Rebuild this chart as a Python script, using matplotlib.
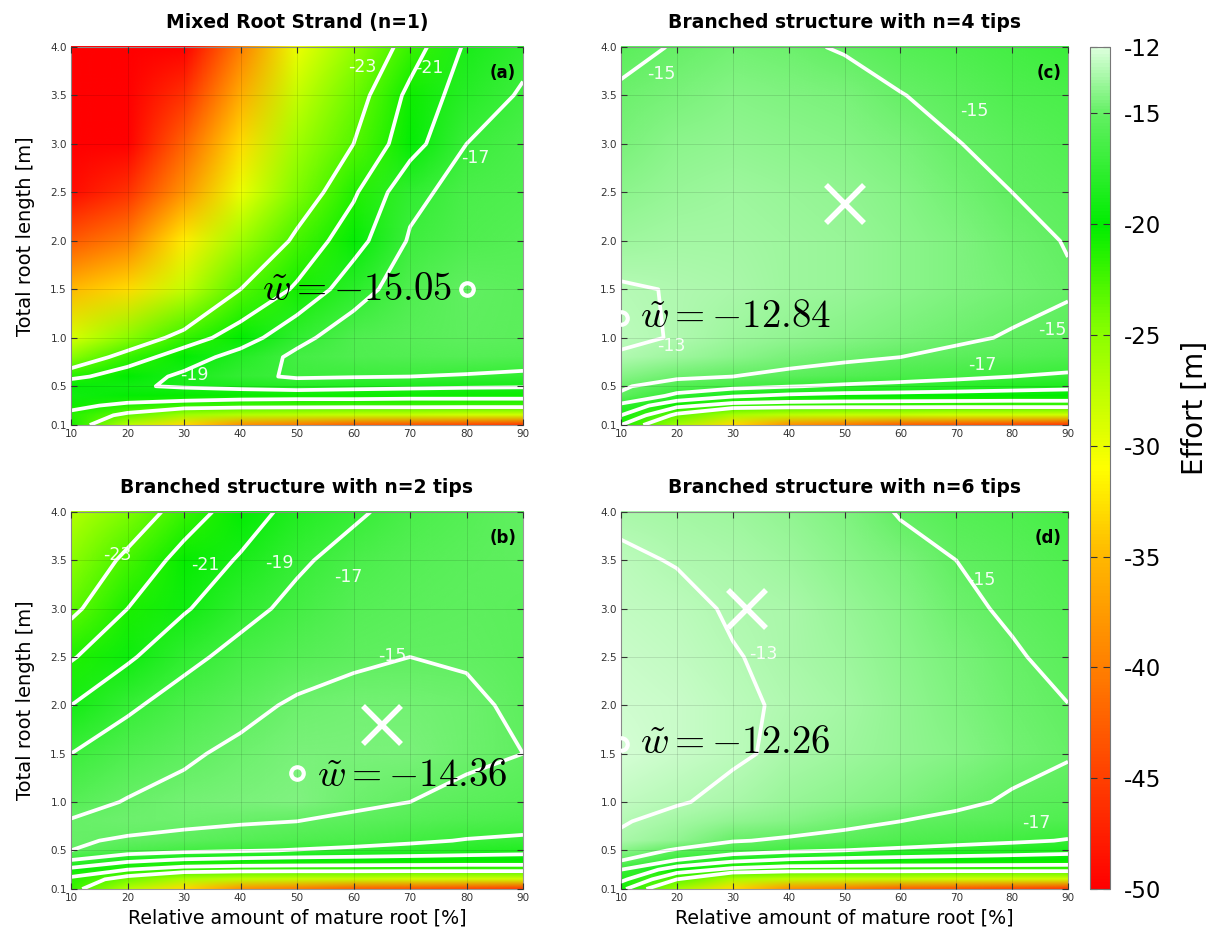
import numpy as np
import matplotlib
matplotlib.use('Agg')
import matplotlib.pyplot as plt
from matplotlib.colors import LinearSegmentedColormap, Normalize
from matplotlib.image import NonUniformImage

plt.rcParams['axes.unicode_minus'] = False
plt.rcParams['font.family'] = ['DejaVu Sans']
plt.rcParams['contour.negative_linestyle'] = 'solid'

# ---------------- data ----------------
mature_pct = [10, 20, 30, 40, 50, 60, 70, 80, 90]
root_len = [4.0, 3.5, 3.0, 2.5, 2.0, 1.5, 1.0, 0.8, 0.6, 0.5, 0.4, 0.3, 0.2, 0.1]

# effort grids, rows follow root_len (top -> bottom), columns follow mature_pct
effort_a = [
    [-62, -58, -52, -40, -30, -25.5, -22, -18.7, -17.5],
    [-60, -54, -46, -36, -28, -24, -20.5, -18, -16.8],
    [-57, -50, -42, -33, -26, -23, -19.8, -17, -16.3],
    [-49, -46, -38, -30, -24.5, -21.3, -17.5, -16.3, -16],
    [-43, -40, -32, -26, -22.5, -19.8, -16.8, -16, -15.6],
    [-35, -33, -28, -23, -20.7, -17.8, -16, -15.05, -15.3],
    [-29, -25, -22, -20, -17.5, -16, -15.5, -15.2, -15.4],
    [-25, -22, -20, -18.2, -16.6, -16, -15.8, -15.6, -15.8],
    [-21.5, -20, -18.6, -17.4, -16.8, -16.9, -17.0, -17.2, -17.5],
    [-19.6, -19.2, -18.8, -18.4, -18.0, -18.3, -18.5, -18.7, -18.8],
    [-19.2, -19.8, -20.2, -20.4, -20.5, -20.5, -20.6, -20.6, -20.6],
    [-20.5, -21.5, -21.8, -22, -22, -22, -22, -22, -22],
    [-21.5, -23.5, -26, -27, -27.5, -28, -28, -28.5, -28.5],
    [-21, -27, -33, -38, -40, -42, -43, -44, -45],
]
effort_b = [
    [-27, -24.5, -22, -20, -18.3, -17.3, -16.3, -15.6, -15.1],
    [-25, -22.5, -20.3, -18.8, -17.3, -16.3, -15.6, -15.3, -15.2],
    [-23.5, -21, -19.2, -17.6, -16.5, -15.7, -15.3, -15.2, -15.3],
    [-21.2, -19.3, -17.5, -16.4, -15.7, -15.2, -15.0, -15.1, -15.4],
    [-19.0, -17.3, -16.2, -15.4, -14.8, -14.6, -14.6, -14.8, -15.2],
    [-17.0, -16.0, -15.2, -14.7, -14.42, -14.45, -14.5, -14.7, -15.0],
    [-15.6, -14.9, -14.6, -14.45, -14.36, -14.7, -15.0, -15.4, -15.7],
    [-14.9, -14.7, -14.7, -14.85, -15.0, -15.3, -15.6, -16.0, -16.3],
    [-14.9, -15.1, -15.4, -15.7, -16.0, -16.3, -16.7, -17.1, -17.3],
    [-15.0, -16.0, -16.5, -16.8, -17.1, -17.4, -17.7, -18.0, -18.3],
    [-17.0, -18.5, -19.2, -19.5, -19.7, -19.8, -19.9, -20, -20],
    [-19.5, -21, -21.8, -22, -22, -22, -22, -22, -22],
    [-21.5, -24, -26.5, -27.5, -28, -28, -28.5, -28.5, -28.5],
    [-22, -27, -33, -38, -40, -42, -43, -44, -45],
]
effort_c = [
    [-15.4, -14.9, -14.6, -14.8, -15.1, -15.6, -16.1, -16.5, -16.9],
    [-14.8, -14.4, -14.2, -14.3, -14.5, -14.95, -15.4, -15.9, -16.3],
    [-14.4, -14.0, -13.9, -14.0, -14.2, -14.5, -14.95, -15.4, -15.8],
    [-14.0, -13.7, -13.6, -13.7, -13.9, -14.2, -14.6, -15.0, -15.4],
    [-13.5, -13.4, -13.4, -13.5, -13.7, -14.0, -14.35, -14.7, -15.05],
    [-12.9, -13.05, -13.3, -13.5, -13.7, -14.0, -14.3, -14.6, -14.9],
    [-12.84, -13.05, -13.5, -13.8, -14.1, -14.4, -14.8, -15.1, -15.3],
    [-13.1, -13.6, -14.0, -14.4, -14.7, -15.0, -15.3, -15.6, -15.9],
    [-14.2, -14.7, -15.0, -15.4, -15.8, -16.2, -16.6, -17.0, -17.3],
    [-14.8, -15.8, -16.4, -16.9, -17.3, -17.6, -17.9, -18.2, -18.5],
    [-15.2, -17.5, -18.8, -19.4, -19.7, -19.8, -19.9, -20.0, -20.0],
    [-17.5, -20.5, -21.8, -22, -22, -22, -22, -22, -22],
    [-19, -23.5, -26.5, -27.5, -28, -28, -28.5, -28.5, -28.5],
    [-21, -26, -33, -38, -40, -42, -43, -44, -45],
]
effort_d = [
    [-13.2, -13.4, -13.6, -13.9, -14.3, -15.1, -15.6, -16.0, -16.4],
    [-12.85, -13.05, -13.3, -13.6, -14.0, -14.5, -15.0, -15.5, -15.9],
    [-12.6, -12.75, -13.1, -13.3, -13.7, -14.2, -14.7, -15.2, -15.6],
    [-12.45, -12.6, -12.95, -13.2, -13.55, -14.0, -14.5, -14.85, -15.4],
    [-12.35, -12.5, -12.8, -13.15, -13.45, -13.85, -14.3, -14.7, -14.98],
    [-12.26, -12.45, -12.85, -13.2, -13.5, -13.85, -14.2, -14.6, -14.9],
    [-12.6, -12.9, -13.3, -13.65, -14.0, -14.35, -14.75, -15.15, -15.5],
    [-12.9, -13.4, -13.8, -14.2, -14.6, -15.0, -15.3, -15.7, -16.0],
    [-13.2, -13.9, -14.9, -15.2, -15.5, -15.9, -16.3, -16.7, -17.1],
    [-14.0, -15.2, -16.0, -16.6, -17.0, -17.4, -17.8, -18.1, -18.4],
    [-14.9, -17, -18.5, -19.2, -19.5, -19.7, -19.8, -19.9, -20],
    [-17, -20, -21.5, -22, -22, -22, -22, -22, -22],
    [-18.5, -23, -26.5, -27.5, -28, -28, -28.5, -28.5, -28.5],
    [-20.5, -26, -33, -38, -40, -42, -43, -44, -45],
]

titles = ['Mixed Root Strand (n=1)', 'Branched structure with n=2 tips',
          'Branched structure with n=4 tips', 'Branched structure with n=6 tips']
tags = ['(a)', '(b)', '(c)', '(d)']
w_best = [-15.05, -14.36, -12.84, -12.26]
best_x = [80, 50, 10, 10]
best_y = [1.5, 1.3, 1.2, 1.6]
cross_x = [None, 65, 50, 32.5]
cross_y = [None, 1.8, 2.38, 3.0]
contour_levels = [-23, -21, -19, -17, -15, -13]

# contour label texts and where they sit
labels_a = [(-23, 61.6, 3.79), (-21, 73.5, 3.78), (-17, 81.5, 2.85), (-19, 31.9, 0.62)]
labels_b = [(-23, 18.2, 3.55), (-21, 33.8, 3.45), (-19, 46.9, 3.47), (-17, 59.0, 3.33), (-15, 66.8, 2.51)]
labels_c = [(-15, 17.2, 3.72), (-15, 73.3, 3.34), (-13, 19.0, 0.91), (-15, 87.2, 1.08), (-17, 74.7, 0.72)]
labels_d = [(-13, 35.5, 2.53), (-15, 74.4, 3.30), (-17, 84.3, 0.78)]

# w-annotation anchor (x, y, horizontal alignment)
w_text = [(77.5, 1.5, 'right'), (53.5, 1.28, 'left'), (13.4, 1.22, 'left'), (13.4, 1.62, 'left')]

cbar_ticks = [-12, -15, -20, -25, -30, -35, -40, -45, -50]
vmin, vmax = -50, -12

# ---------------- colormap ----------------
nodes = [(-50, (1.0, 0.0, 0.0)), (-45, (1.0, 0.25, 0.0)), (-40, (1.0, 0.5, 0.0)),
         (-35, (1.0, 0.72, 0.0)), (-31, (1.0, 1.0, 0.0)), (-25, (0.55, 1.0, 0.0)),
         (-20, (0.0, 0.93, 0.0)), (-15, (0.38, 0.94, 0.38)), (-12, (0.86, 1.0, 0.86))]
cmap = LinearSegmentedColormap.from_list(
    'effort', [((v - vmin) / (vmax - vmin), c) for v, c in nodes])
cmap.set_under((1.0, 0.0, 0.0))
cmap.set_over((0.86, 1.0, 0.86))
norm = Normalize(vmin, vmax)

# ---------------- figure ----------------
fig = plt.figure(figsize=(12.07, 9.40), dpi=100)
W, H = 1207, 940
def rect(l, t, r, b):
    return [l / W, 1 - b / H, (r - l) / W, (b - t) / H]

ax_rects = [rect(71, 47, 523, 425), rect(71, 512, 523, 889),
            rect(621, 47, 1068, 425), rect(621, 512, 1068, 889)]
grids = [effort_a, effort_b, effort_c, effort_d]
label_sets = [labels_a, labels_b, labels_c, labels_d]

xs = np.array(mature_pct, dtype=float)
ys = np.array(root_len, dtype=float)
X, Y = np.meshgrid(xs, ys)
for i in range(4):
    ax = fig.add_axes(ax_rects[i])
    Z = np.array(grids[i], dtype=float)
    im = NonUniformImage(ax, interpolation='bilinear', extent=(10, 90, 0.1, 4.0),
                         cmap=cmap, norm=norm)
    im.set_data(xs, ys[::-1], Z[::-1])
    ax.add_image(im)
    ax.contour(X, Y, Z, levels=contour_levels, colors='white', linewidths=2.7,
               linestyles='solid')
    for lev, lx, ly in label_sets[i]:
        ax.text(lx, ly, f'{lev:d}', color='white', fontsize=12.5, ha='center', va='center',
                alpha=0.92)
    ax.plot(best_x[i], best_y[i], marker='o', ms=9, mfc='none', mec='white', mew=3,
            zorder=5)
    if cross_x[i] is not None:
        ax.plot(cross_x[i], cross_y[i], marker='x', ms=28, mec='white', mew=4, zorder=5)
    tx, ty, ha = w_text[i]
    ax.text(tx, ty, r'$\tilde{w} = -%.2f$' % abs(w_best[i]), fontsize=28, ha=ha,
            va='center', math_fontfamily='cm', color='black', zorder=6)
    ax.text(0.985, 0.955, tags[i], transform=ax.transAxes, ha='right', va='top',
            fontsize=12, fontweight='bold', color='black')
    ax.set_xlim(10, 90)
    ax.set_ylim(0.1, 4.0)
    ax.set_xticks(mature_pct)
    ax.set_yticks([0.1, 0.5, 1.0, 1.5, 2.0, 2.5, 3.0, 3.5, 4.0])
    ax.set_yticklabels(['0.1', '0.5', '1.0', '1.5', '2.0', '2.5', '3.0', '3.5', '4.0'])
    ax.tick_params(direction='in', length=4, top=True, right=True, labelsize=7.5,
                   labelcolor='#333333', color='#333333', pad=3)
    ax.grid(True, color='black', alpha=0.12, lw=0.6)
    ax.set_axisbelow(False)
    for s in ax.spines.values():
        s.set_color('#999999')
        s.set_linewidth(0.8)
    ax.set_title(titles[i], fontsize=13.5, fontweight='bold', pad=14)
    if i in (0, 1):
        ax.set_ylabel('Total root length [m]', fontsize=14, labelpad=11)
    if i in (1, 3):
        ax.set_xlabel('Relative amount of mature root [%]', fontsize=13.7, labelpad=4)

cax = fig.add_axes(rect(1090, 47, 1110, 889))
sm = matplotlib.cm.ScalarMappable(cmap=cmap, norm=norm)
cb = fig.colorbar(sm, cax=cax, ticks=cbar_ticks)
cb.ax.set_yticklabels([str(t) for t in cbar_ticks])
cb.ax.tick_params(direction='in', length=5, left=True, right=True, labelsize=16.5,
                  color='#333333', pad=10)
cb.outline.set_edgecolor('#777777')
cb.outline.set_linewidth(0.8)
cb.set_label('Effort [m]', fontsize=20)
cb.ax.yaxis.set_label_coords(4.55, 0.571)

fig.savefig('out.png', dpi=100)
